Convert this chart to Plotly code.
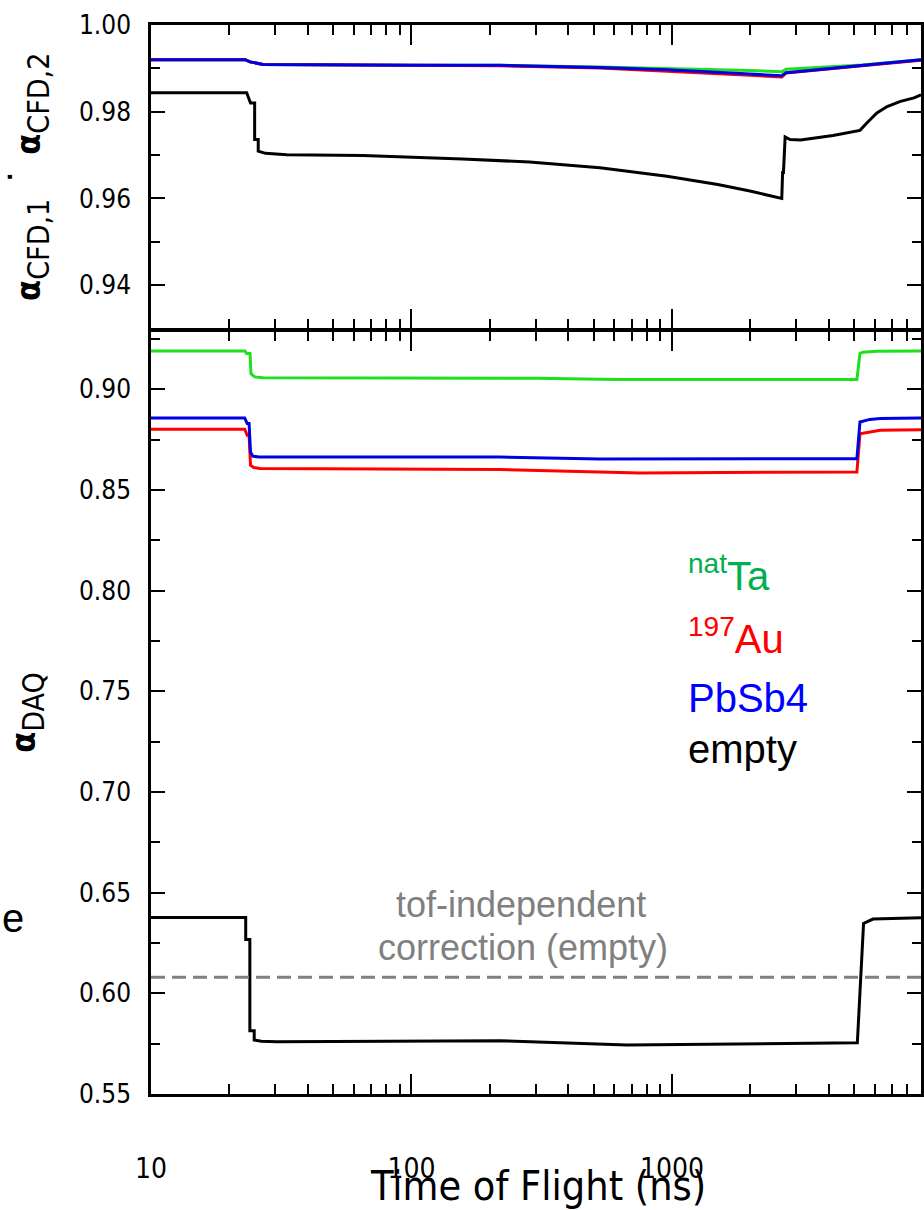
import math
import plotly.graph_objects as go

# ---------------- data ----------------
# Upper panel: alpha_CFD,1 * alpha_CFD,2 versus time of flight (ns)
tof_top_ta = [10, 23.0, 24.0, 26.9, 100, 219, 529, 957, 1992, 2640, 2740, 5360, 9040]
cfd_ta = [0.9920, 0.9920, 0.9915, 0.9909, 0.9907, 0.9907, 0.9903, 0.9900, 0.9895, 0.9892, 0.9898, 0.9908, 0.9920]

tof_top_au = [10, 23.0, 24.0, 26.9, 100, 219, 529, 957, 1992, 2640, 2740, 5360, 9040]
cfd_au = [0.9920, 0.9920, 0.9915, 0.9909, 0.9907, 0.9906, 0.9901, 0.9894, 0.9884, 0.9880, 0.9889, 0.9906, 0.9919]

tof_top_pb = [10, 23.0, 24.0, 26.9, 100, 219, 529, 957, 1992, 2640, 2740, 5360, 9040]
cfd_pb = [0.9920, 0.9920, 0.9915, 0.9909, 0.9907, 0.9907, 0.9902, 0.9897, 0.9887, 0.9883, 0.9890, 0.9906, 0.9920]

tof_top_empty = [10, 23.3, 24.1, 25.0, 25.0, 25.8, 25.8, 27.5, 33.2, 65, 157, 284, 529, 957,
                 1500, 1992, 2640, 2660, 2680, 2720, 2840, 3120, 4150, 5270, 5600, 6120,
                 6700, 7540, 8500, 9040]
cfd_empty = [0.9844, 0.9844, 0.9820, 0.9820, 0.9736, 0.9736, 0.9709, 0.9704, 0.9701, 0.9699,
             0.9691, 0.9684, 0.9671, 0.9651, 0.9632, 0.9617, 0.9600, 0.9660, 0.9660, 0.9742,
             0.9736, 0.9735, 0.9745, 0.9757, 0.9774, 0.9797, 0.9812, 0.9824, 0.9832, 0.9839]

# Lower panel: alpha_DAQ versus time of flight (ns)
tof_daq_ta = [10, 22.95, 23.3, 24.0, 24.2, 25.0, 26.9, 100, 300, 615, 5130, 5270, 5400, 6125, 9040]
daq_ta = [0.9191, 0.9191, 0.9178, 0.9178, 0.9078, 0.9062, 0.9058, 0.9058, 0.9055, 0.9049,
          0.9049, 0.9178, 0.9185, 0.9190, 0.9191]

tof_daq_au = [10, 22.9, 23.4, 23.8, 24.1, 24.8, 26.2, 219, 753, 5130, 5270, 6300, 9040]
daq_au = [0.8802, 0.8802, 0.8772, 0.8772, 0.8623, 0.8612, 0.8607, 0.8602, 0.8585, 0.8590,
          0.8780, 0.8797, 0.8800]

tof_daq_pb = [10, 22.9, 23.4, 23.8, 24.1, 24.6, 26.0, 219, 529, 5130, 5270, 5750, 6300, 9040]
daq_pb = [0.8858, 0.8858, 0.8830, 0.8830, 0.8689, 0.8668, 0.8664, 0.8664, 0.8654, 0.8656,
          0.8838, 0.8851, 0.8855, 0.8858]

tof_daq_empty = [10, 23.1, 23.1, 23.96, 23.96, 24.9, 24.9, 26.5, 30.4, 219, 672, 5150, 5440, 5913, 9040]
daq_empty = [0.6377, 0.6377, 0.6268, 0.6268, 0.5814, 0.5814, 0.5768, 0.5762, 0.5760, 0.5765,
             0.5743, 0.5755, 0.6347, 0.6369, 0.6375]

# tof-independent correction for the empty run
daq_empty_const = 0.608

tof_range = [10, 9040]
x_major = [10, 100, 1000]
x_minor = [20, 30, 40, 50, 60, 70, 80, 90, 200, 300, 400, 500, 600, 700, 800, 900,
           2000, 3000, 4000, 5000, 6000, 7000, 8000, 9000]
top_major = [0.94, 0.96, 0.98, 1.00]
top_minor = [0.95, 0.97, 0.99]
bot_major = [0.55, 0.60, 0.65, 0.70, 0.75, 0.80, 0.85, 0.90]
bot_minor = [0.575, 0.625, 0.675, 0.725, 0.775, 0.825, 0.875, 0.925]

# ---------------- style ----------------
GREEN_LINE = "#1ee01e"
RED_LINE = "#ff0000"
BLUE_LINE = "#0000e6"
TICK_FONT = "DejaVu Sans Condensed, Roboto Condensed, Liberation Sans Narrow, DejaVu Sans, sans-serif"
TEXT_FONT = "Liberation Sans, Arial, sans-serif"
AXIS_W = 2.5
PLOT_H = 1069  # plot area height in px

fig = go.Figure()

def add_line(x, y, color, xa, ya):
    fig.add_trace(go.Scatter(x=x, y=y, mode="lines", xaxis=xa, yaxis=ya,
                             line=dict(color=color, width=3), showlegend=False,
                             hoverinfo="x+y"))

# upper panel
add_line(tof_top_ta, cfd_ta, GREEN_LINE, "x2", "y2")
add_line(tof_top_au, cfd_au, RED_LINE, "x2", "y2")
add_line(tof_top_pb, cfd_pb, BLUE_LINE, "x2", "y2")
add_line(tof_top_empty, cfd_empty, "black", "x2", "y2")

# lower panel
add_line(tof_daq_ta, daq_ta, GREEN_LINE, "x", "y")
add_line(tof_daq_au, daq_au, RED_LINE, "x", "y")
add_line(tof_daq_pb, daq_pb, BLUE_LINE, "x", "y")
add_line(tof_daq_empty, daq_empty, "black", "x", "y")

# constant correction level
fig.add_trace(go.Scatter(x=tof_range, y=[daq_empty_const, daq_empty_const], mode="lines",
                         xaxis="x", yaxis="y", showlegend=False,
                         line=dict(color="#808080", width=3, dash="14px,7px")))

split = 763 / PLOT_H
# lift the upper panel by one line width so the shared frame line is drawn once
split_top = split + AXIS_W / PLOT_H

def xaxis_cfg(show_labels):
    return dict(
        type="log", range=[math.log10(tof_range[0]), math.log10(tof_range[1])],
        showline=True, linewidth=AXIS_W, linecolor="black", mirror="allticks",
        ticks="inside", ticklen=20, tickwidth=2, tickcolor="black",
        tickmode="array", tickvals=x_major, ticktext=[str(v) for v in x_major],
        showticklabels=show_labels, ticklabelstandoff=48,
        tickfont=dict(family=TICK_FONT, size=28, color="black"),
        minor=dict(tickmode="array", tickvals=x_minor, ticks="inside", ticklen=10,
                   tickwidth=2, tickcolor="black", showgrid=False),
        showgrid=False, zeroline=False, automargin=False,
    )

ALPHA = "<span style='font-size:34px'><b>α</b></span>"

def yaxis_cfg(rng, major, minor, domain, title, standoff):
    return dict(
        range=rng, domain=domain,
        showline=True, linewidth=AXIS_W, linecolor="black", mirror="allticks",
        ticks="inside", ticklen=14, tickwidth=2, tickcolor="black",
        tickmode="array", tickvals=major, tickformat=".2f",
        ticklabelstandoff=12,
        tickfont=dict(family=TICK_FONT, size=26, color="black"),
        minor=dict(tickmode="array", tickvals=minor, ticks="inside", ticklen=9,
                   tickwidth=2, tickcolor="black", showgrid=False),
        showgrid=False, zeroline=False, automargin=False,
        title=dict(text=title, standoff=standoff,
                   font=dict(family=TICK_FONT, size=43, color="black")),
    )

x_bottom = xaxis_cfg(True)
x_bottom.update(anchor="y", domain=[0, 1])
x_top = xaxis_cfg(False)
x_top.update(anchor="y2", domain=[0, 1], matches="x")

fig.update_layout(
    width=924, height=1210,
    margin=dict(l=151, r=3, t=25, b=116),
    paper_bgcolor="white", plot_bgcolor="white",
    xaxis=x_bottom,
    xaxis2=x_top,
    yaxis=yaxis_cfg([0.55, 0.929], bot_major, bot_minor, [0, split],
                    ALPHA + "<sub>DAQ</sub>", 30),
    yaxis2=yaxis_cfg([0.93, 1.0], top_major, top_minor, [split_top, 1],
                     ALPHA + "<sub>CFD,1</sub> ˙ " + ALPHA + "<sub>CFD,2</sub>", 26),
)
fig.layout.yaxis2.anchor = "x2"
fig.layout.yaxis.anchor = "x"

def py(pixel_y):
    return (1094 - pixel_y) / PLOT_H

def px(pixel_x):
    return (pixel_x - 151) / 770

# x-axis title, placed below the tick labels
fig.add_annotation(text="Time of Flight (ns)", xref="paper", yref="paper",
                   x=px(538), y=py(1186), xanchor="center", yanchor="middle",
                   showarrow=False, font=dict(family=TICK_FONT, size=41, color="black"))

labels = [
    ("<sup>nat</sup>Ta", "#00b050", 573),
    ("<sup>197</sup>Au", "#ff0000", 636),
    ("PbSb4", "#0000ff", 698),
    ("empty", "black", 749),
]
for text, color, ypix in labels:
    fig.add_annotation(text=text, xref="paper", yref="paper", x=px(686), y=py(ypix),
                       xanchor="left", yanchor="middle", showarrow=False,
                       font=dict(family=TEXT_FONT, size=40, color=color))

fig.add_annotation(text="tof-independent", xref="paper", yref="paper",
                   x=px(521), y=py(904), xanchor="center", yanchor="middle",
                   showarrow=False, font=dict(family=TEXT_FONT, size=36, color="#808080"))
fig.add_annotation(text="correction (empty)", xref="paper", yref="paper",
                   x=px(523), y=py(947), xanchor="center", yanchor="middle",
                   showarrow=False, font=dict(family=TEXT_FONT, size=36, color="#808080"))
fig.add_annotation(text="e", xref="paper", yref="paper",
                   x=px(0), y=py(918), xanchor="left", yanchor="middle",
                   showarrow=False, font=dict(family=TEXT_FONT, size=40, color="black"))

fig.write_html("out.html")
